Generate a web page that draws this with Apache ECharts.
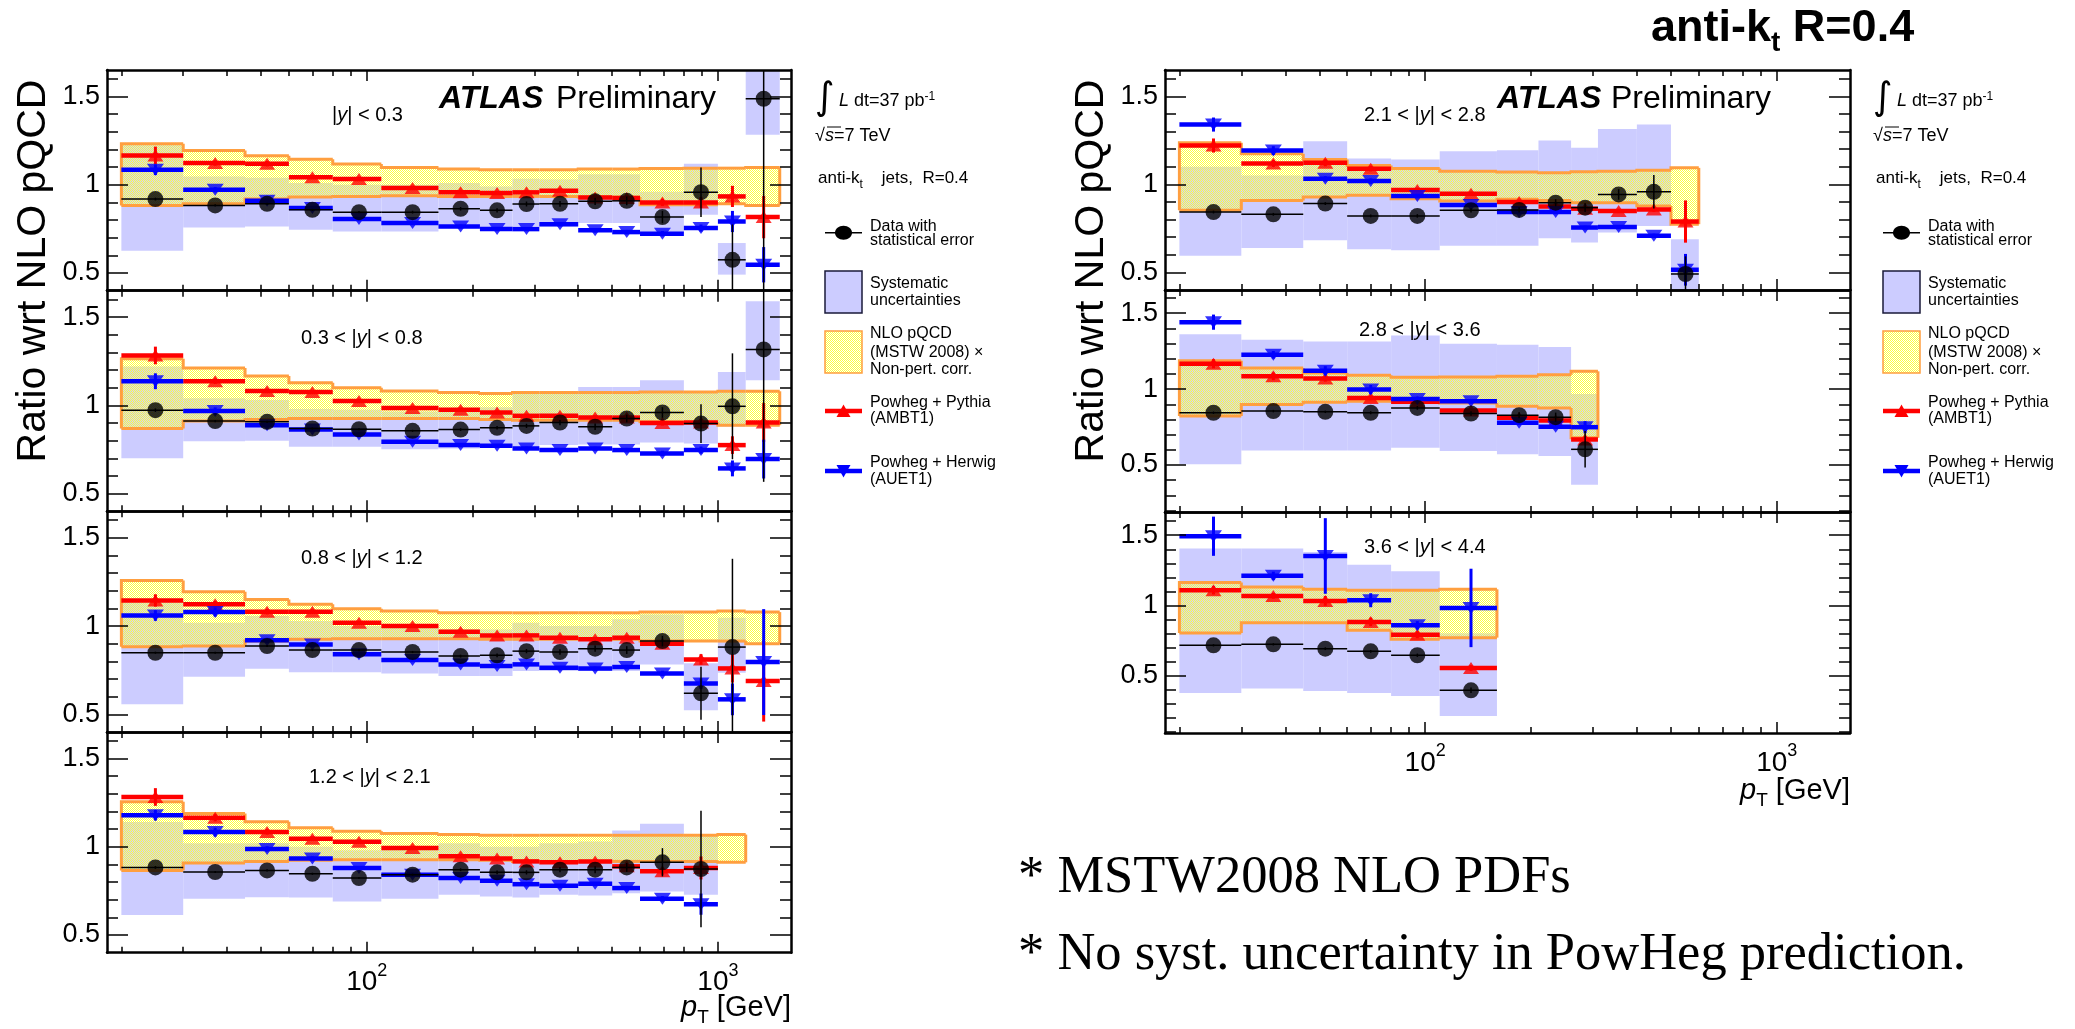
<!DOCTYPE html>
<html>
<head>
<meta charset="utf-8">
<title>Inclusive jet cross-section ratio to NLO pQCD, anti-kt R=0.4</title>
<script src="https://cdn.jsdelivr.net/npm/echarts@6/dist/echarts.min.js"></script>
<style>
  html, body { margin: 0; padding: 0; background: #ffffff; }
  #chart { width: 2075px; height: 1029px; }
</style>
</head>
<body>
<div id="chart"></div>
<script>
// ---------------------------------------------------------------------------
// Binning (jet pT in GeV) and axis ticks
// ---------------------------------------------------------------------------
const ptEdges   = [20, 30, 45, 60, 80, 110, 160, 210, 260, 310, 400, 500, 600, 800, 1000, 1200, 1500];
const ptCenters = [25, 37, 52, 70, 95, 135, 185, 235, 285, 355, 447, 550, 695, 895, 1100, 1350];
const ptMajorTicks = [100, 1000];
const ptMinorTicks = [20, 30, 40, 50, 60, 70, 80, 90, 200, 300, 400, 500, 600, 700, 800, 900];
const ratioMajorTicks = [0.5, 1, 1.5];
const ratioMinorTicks = [0.1, 0.2, 0.3, 0.4, 0.6, 0.7, 0.8, 0.9, 1.1, 1.2, 1.3, 1.4, 1.6];

const rapidityLabels = ['|{i|y}| < 0.3', '0.3 < |{i|y}| < 0.8', '0.8 < |{i|y}| < 1.2', '1.2 < |{i|y}| < 2.1',
                        '2.1 < |{i|y}| < 2.8', '2.8 < |{i|y}| < 3.6', '3.6 < |{i|y}| < 4.4'];

// ---------------------------------------------------------------------------
// |y| < 0.3
// ---------------------------------------------------------------------------
const dataR1      = [0.919, 0.883, 0.892, 0.858, 0.845, 0.845, 0.864, 0.855, 0.891, 0.892, 0.906, 0.909, 0.817, 0.958, 0.575, 1.487];
const statR1      = [0.008, 0.006, 0.006, 0.006, 0.006, 0.008, 0.010, 0.012, 0.014, 0.016, 0.020, 0.025, 0.035, 0.140, 0.200, 1.200];
const systLoR1    = [0.626, 0.758, 0.764, 0.745, 0.736, 0.736, 0.755, 0.745, 0.764, 0.764, 0.783, 0.783, 0.726, 0.830, 0.491, 1.283];
const systHiR1    = [1.230, 1.047, 1.040, 1.010, 1.000, 1.000, 1.010, 0.990, 1.034, 1.030, 1.060, 1.060, 0.960, 1.119, 0.670, 1.750];
const nloLoR1     = [0.883, 0.892, 0.919, 0.930, 0.934, 0.938, 0.934, 0.934, 0.934, 0.934, 0.930, 0.930, 0.887, 0.887, 0.892, 0.883];
const nloHiR1     = [1.232, 1.194, 1.164, 1.145, 1.117, 1.098, 1.089, 1.085, 1.085, 1.085, 1.089, 1.089, 1.092, 1.094, 1.094, 1.098];
const pythiaR1    = [1.166, 1.123, 1.119, 1.043, 1.032, 0.981, 0.958, 0.953, 0.957, 0.966, 0.928, 0.925, 0.900, 0.900, 0.934, 0.817];
const pythiaErrR1 = [0.050, 0.015, 0.015, 0.010, 0.010, 0.010, 0.010, 0.010, 0.010, 0.012, 0.012, 0.015, 0.020, 0.030, 0.060, 0.120];
const herwigR1    = [1.085, 0.972, 0.909, 0.868, 0.806, 0.783, 0.764, 0.749, 0.749, 0.777, 0.742, 0.732, 0.723, 0.755, 0.792, 0.547];
const herwigErrR1 = [0.030, 0.015, 0.012, 0.010, 0.010, 0.010, 0.010, 0.010, 0.010, 0.010, 0.012, 0.012, 0.015, 0.020, 0.060, 0.100];

// ---------------------------------------------------------------------------
// 0.3 < |y| < 0.8
// ---------------------------------------------------------------------------
const dataR2      = [0.973, 0.911, 0.907, 0.869, 0.865, 0.856, 0.863, 0.873, 0.884, 0.903, 0.879, 0.926, 0.960, 0.897, 0.995, 1.317];
const statR2      = [0.010, 0.006, 0.006, 0.006, 0.006, 0.006, 0.008, 0.010, 0.012, 0.015, 0.018, 0.022, 0.030, 0.110, 0.300, 0.750];
const systLoR2    = [0.700, 0.797, 0.800, 0.766, 0.766, 0.752, 0.756, 0.766, 0.766, 0.775, 0.779, 0.779, 0.790, 0.784, 0.880, 1.142];
const systHiR2    = [1.220, 1.040, 1.030, 0.980, 0.975, 0.965, 0.975, 0.990, 1.080, 1.080, 1.105, 1.105, 1.142, 1.076, 1.190, 1.590];
const nloLoR2     = [0.869, 0.911, 0.920, 0.926, 0.926, 0.926, 0.926, 0.920, 0.916, 0.916, 0.916, 0.916, 0.907, 0.903, 0.888, 0.888];
const nloHiR2     = [1.265, 1.212, 1.167, 1.129, 1.100, 1.082, 1.073, 1.067, 1.073, 1.073, 1.073, 1.073, 1.076, 1.076, 1.080, 1.080];
const pythiaR2    = [1.283, 1.137, 1.082, 1.076, 1.025, 0.986, 0.976, 0.960, 0.941, 0.941, 0.931, 0.931, 0.901, 0.903, 0.775, 0.903];
const pythiaErrR2 = [0.050, 0.015, 0.012, 0.010, 0.010, 0.010, 0.010, 0.010, 0.010, 0.010, 0.012, 0.012, 0.015, 0.020, 0.050, 0.110];
const herwigR2    = [1.137, 0.969, 0.888, 0.863, 0.835, 0.794, 0.775, 0.771, 0.756, 0.747, 0.756, 0.747, 0.728, 0.747, 0.643, 0.696];
const herwigErrR2 = [0.045, 0.020, 0.012, 0.010, 0.010, 0.010, 0.010, 0.010, 0.010, 0.010, 0.010, 0.012, 0.015, 0.020, 0.045, 0.110];

// ---------------------------------------------------------------------------
// 0.8 < |y| < 1.2
// ---------------------------------------------------------------------------
const dataR3      = [0.849, 0.849, 0.887, 0.864, 0.864, 0.853, 0.830, 0.834, 0.858, 0.853, 0.872, 0.864, 0.915, 0.619, 0.881, null];
const statR3      = [0.006, 0.006, 0.006, 0.006, 0.006, 0.006, 0.008, 0.010, 0.012, 0.015, 0.018, 0.022, 0.030, 0.150, 0.500, null];
const systLoR3    = [0.557, 0.713, 0.758, 0.739, 0.739, 0.732, 0.717, 0.717, 0.745, 0.745, 0.745, 0.745, 0.783, 0.523, 0.736, null];
const systHiR3    = [1.150, 1.019, 1.057, 1.028, 1.000, 0.990, 0.980, 0.980, 1.019, 1.000, 1.000, 1.038, 1.066, 0.790, 1.047, null];
const nloLoR3     = [0.883, 0.887, 0.915, 0.925, 0.928, 0.928, 0.928, 0.925, 0.925, 0.925, 0.925, 0.925, 0.915, 0.915, 0.915, 0.900];
const nloHiR3     = [1.258, 1.194, 1.151, 1.123, 1.098, 1.085, 1.075, 1.075, 1.075, 1.075, 1.075, 1.075, 1.079, 1.079, 1.085, 1.079];
const pythiaR3    = [1.145, 1.123, 1.081, 1.081, 1.019, 1.000, 0.968, 0.947, 0.947, 0.934, 0.925, 0.934, 0.900, 0.811, 0.760, 0.689];
const pythiaErrR3 = [0.035, 0.020, 0.015, 0.012, 0.010, 0.010, 0.010, 0.010, 0.010, 0.010, 0.012, 0.012, 0.015, 0.030, 0.080, 0.230];
const herwigR3    = [1.060, 1.079, 0.919, 0.896, 0.840, 0.808, 0.783, 0.774, 0.783, 0.764, 0.760, 0.768, 0.732, 0.674, 0.585, 0.796];
const herwigErrR3 = [0.030, 0.025, 0.015, 0.012, 0.010, 0.010, 0.010, 0.010, 0.010, 0.010, 0.010, 0.012, 0.015, 0.030, 0.090, 0.300];

// ---------------------------------------------------------------------------
// 1.2 < |y| < 2.1
// ---------------------------------------------------------------------------
const dataR4      = [0.883, 0.857, 0.866, 0.847, 0.823, 0.842, 0.870, 0.855, 0.855, 0.870, 0.870, 0.883, 0.912, 0.874, null];
const statR4      = [0.008, 0.006, 0.006, 0.006, 0.006, 0.006, 0.008, 0.010, 0.012, 0.015, 0.020, 0.025, 0.080, 0.330, null];
const systLoR4    = [0.614, 0.705, 0.714, 0.712, 0.690, 0.705, 0.728, 0.718, 0.712, 0.728, 0.724, 0.737, 0.747, 0.728, null];
const systHiR4    = [1.140, 1.020, 1.020, 1.000, 0.980, 0.990, 1.020, 1.000, 1.000, 1.020, 1.030, 1.092, 1.130, 1.070, null];
const nloLoR4     = [0.866, 0.908, 0.917, 0.923, 0.927, 0.927, 0.927, 0.923, 0.917, 0.917, 0.917, 0.917, 0.917, 0.917, 0.912];
const nloHiR4     = [1.255, 1.189, 1.141, 1.107, 1.088, 1.075, 1.069, 1.065, 1.065, 1.065, 1.065, 1.065, 1.065, 1.065, 1.069];
const pythiaR4    = [1.282, 1.164, 1.084, 1.046, 1.028, 0.993, 0.946, 0.933, 0.917, 0.912, 0.917, 0.889, 0.861, 0.880, null];
const pythiaErrR4 = [0.050, 0.020, 0.015, 0.012, 0.010, 0.010, 0.010, 0.010, 0.010, 0.010, 0.012, 0.012, 0.020, 0.065, null];
const herwigR4    = [1.179, 1.083, 0.988, 0.933, 0.880, 0.842, 0.823, 0.807, 0.788, 0.779, 0.790, 0.766, 0.705, 0.675, null];
const herwigErrR4 = [0.030, 0.025, 0.015, 0.012, 0.010, 0.010, 0.010, 0.010, 0.010, 0.010, 0.010, 0.012, 0.015, 0.060, null];

// ---------------------------------------------------------------------------
// 2.1 < |y| < 2.8
// ---------------------------------------------------------------------------
const dataR5      = [0.843, 0.830, 0.891, 0.821, 0.821, 0.853, 0.855, 0.896, 0.868, 0.943, 0.958, 0.491];
const statR5      = [0.008, 0.008, 0.008, 0.008, 0.010, 0.012, 0.015, 0.020, 0.025, 0.030, 0.095, 0.100];
const systLoR5    = [0.594, 0.638, 0.683, 0.632, 0.626, 0.651, 0.651, 0.694, 0.670, 0.726, 0.764, 0.300];
const systHiR5    = [1.100, 1.050, 1.245, 1.147, 1.142, 1.189, 1.194, 1.249, 1.208, 1.315, 1.340, 0.689];
const nloLoR5     = [0.853, 0.909, 0.928, 0.938, 0.919, 0.906, 0.915, 0.909, 0.896, 0.896, 0.877, 0.774];
const nloHiR5     = [1.236, 1.174, 1.142, 1.108, 1.091, 1.075, 1.070, 1.066, 1.072, 1.075, 1.081, 1.094];
const pythiaR5    = [1.221, 1.119, 1.123, 1.089, 0.968, 0.947, 0.900, 0.874, 0.862, 0.849, 0.858, 0.789];
const pythiaErrR5 = [0.040, 0.020, 0.020, 0.015, 0.012, 0.010, 0.010, 0.010, 0.012, 0.012, 0.015, 0.120];
const herwigR5    = [1.340, 1.192, 1.032, 1.019, 0.934, 0.883, 0.843, 0.843, 0.755, 0.758, 0.708, 0.515];
const herwigErrR5 = [0.040, 0.025, 0.015, 0.015, 0.012, 0.010, 0.010, 0.010, 0.010, 0.010, 0.012, 0.090];

// ---------------------------------------------------------------------------
// 2.8 < |y| < 3.6
// ---------------------------------------------------------------------------
const dataR6      = [0.844, 0.855, 0.850, 0.844, 0.876, 0.839, 0.828, 0.815, 0.603];
const statR6      = [0.008, 0.008, 0.008, 0.010, 0.012, 0.015, 0.020, 0.030, 0.120];
const systLoR6    = [0.504, 0.596, 0.596, 0.596, 0.614, 0.592, 0.570, 0.559, 0.369];
const systHiR6    = [1.362, 1.325, 1.314, 1.314, 1.353, 1.299, 1.292, 1.277, 0.968];
const nloLoR6     = [0.822, 0.898, 0.914, 0.920, 0.920, 0.909, 0.887, 0.876, 0.679];
const nloHiR6     = [1.187, 1.139, 1.106, 1.091, 1.078, 1.080, 1.084, 1.095, 1.117];
const pythiaR6    = [1.167, 1.084, 1.069, 0.942, 0.916, 0.859, 0.811, 0.793, 0.668];
const pythiaErrR6 = [0.030, 0.025, 0.020, 0.015, 0.012, 0.010, 0.010, 0.012, 0.020];
const herwigR6    = [1.441, 1.226, 1.121, 0.997, 0.935, 0.920, 0.778, 0.752, 0.749];
const herwigErrR6 = [0.050, 0.025, 0.030, 0.030, 0.015, 0.015, 0.012, 0.012, 0.040];

// ---------------------------------------------------------------------------
// 3.6 < |y| < 4.4
// ---------------------------------------------------------------------------
const dataR7      = [0.714, 0.721, 0.690, 0.671, 0.643, 0.393];
const statR7      = [0.008, 0.008, 0.010, 0.010, 0.012, 0.020];
const systLoR7    = [0.374, 0.405, 0.388, 0.374, 0.352, 0.210];
const systHiR7    = [1.405, 1.405, 1.380, 1.290, 1.243, 0.800];
const nloLoR7     = [0.802, 0.876, 0.876, 0.821, 0.757, 0.769];
const nloHiR7     = [1.162, 1.131, 1.114, 1.107, 1.107, 1.114];
const pythiaR7    = [1.107, 1.067, 1.031, 0.881, 0.790, 0.552];
const pythiaErrR7 = [0.030, 0.020, 0.035, 0.030, 0.025, 0.020];
const herwigR7    = [1.493, 1.210, 1.352, 1.036, 0.857, 0.981];
const herwigErrR7 = [0.140, 0.030, 0.270, 0.050, 0.030, 0.280];

// ---------------------------------------------------------------------------
// Styling
// ---------------------------------------------------------------------------
const FONT = "'Liberation Sans', Arial, Helvetica, sans-serif";
const SERIF = "'Liberation Serif', 'Times New Roman', serif";
const SYST_FILL = '#ccccff';
const BAND_EDGE = '#ff9f40';
const PYTHIA_COLOR = '#ff0000';
const HERWIG_COLOR = '#0000ff';
const PT_MIN = 18.2, PT_MAX = 1615;

// pale yellow checker fill used for the NLO band
function makeBandPattern() {
  const c = document.createElement('canvas');
  c.width = 4; c.height = 4;
  const g = c.getContext('2d');
  g.fillStyle = '#ffff3c';
  for (let y = 0; y < 4; y++) for (let x = 0; x < 4; x++) if ((x + y) % 2 === 0) g.fillRect(x, y, 1, 1);
  return { image: c, repeat: 'repeat' };
}
const BAND_PATTERN = makeBandPattern();

// panel frames (pixels) and vertical ranges
const panelBoxes = [
  { left: 107,  top: 70,    width: 684, height: 220.7, yMin: 0.4,   yMax: 1.65,  ptLabels: false },
  { left: 107,  top: 290.7, width: 684, height: 220.6, yMin: 0.4,   yMax: 1.65,  ptLabels: false },
  { left: 107,  top: 511.3, width: 684, height: 220.7, yMin: 0.4,   yMax: 1.65,  ptLabels: false },
  { left: 107,  top: 732,   width: 684, height: 220.7, yMin: 0.4,   yMax: 1.65,  ptLabels: true  },
  { left: 1165, top: 70,    width: 685, height: 220,   yMin: 0.4,   yMax: 1.65,  ptLabels: false },
  { left: 1165, top: 290,   width: 685, height: 222,   yMin: 0.19,  yMax: 1.653, ptLabels: false },
  { left: 1165, top: 512,   width: 685, height: 221,   yMin: 0.088, yMax: 1.666, ptLabels: true  }
];
const panelLabelPos = [[332, 115], [301, 338], [301, 558], [309, 777], [1364, 115], [1359, 330], [1364, 547]];

const panels = [
  { data: dataR1, stat: statR1, systLo: systLoR1, systHi: systHiR1, nloLo: nloLoR1, nloHi: nloHiR1, pythia: pythiaR1, pythiaErr: pythiaErrR1, herwig: herwigR1, herwigErr: herwigErrR1 },
  { data: dataR2, stat: statR2, systLo: systLoR2, systHi: systHiR2, nloLo: nloLoR2, nloHi: nloHiR2, pythia: pythiaR2, pythiaErr: pythiaErrR2, herwig: herwigR2, herwigErr: herwigErrR2 },
  { data: dataR3, stat: statR3, systLo: systLoR3, systHi: systHiR3, nloLo: nloLoR3, nloHi: nloHiR3, pythia: pythiaR3, pythiaErr: pythiaErrR3, herwig: herwigR3, herwigErr: herwigErrR3 },
  { data: dataR4, stat: statR4, systLo: systLoR4, systHi: systHiR4, nloLo: nloLoR4, nloHi: nloHiR4, pythia: pythiaR4, pythiaErr: pythiaErrR4, herwig: herwigR4, herwigErr: herwigErrR4 },
  { data: dataR5, stat: statR5, systLo: systLoR5, systHi: systHiR5, nloLo: nloLoR5, nloHi: nloHiR5, pythia: pythiaR5, pythiaErr: pythiaErrR5, herwig: herwigR5, herwigErr: herwigErrR5 },
  { data: dataR6, stat: statR6, systLo: systLoR6, systHi: systHiR6, nloLo: nloLoR6, nloHi: nloHiR6, pythia: pythiaR6, pythiaErr: pythiaErrR6, herwig: herwigR6, herwigErr: herwigErrR6 },
  { data: dataR7, stat: statR7, systLo: systLoR7, systHi: systHiR7, nloLo: nloLoR7, nloHi: nloHiR7, pythia: pythiaR7, pythiaErr: pythiaErrR7, herwig: herwigR7, herwigErr: herwigErrR7 }
];

// ---------------------------------------------------------------------------
// Custom renderers
// ---------------------------------------------------------------------------
function clampY(y, cs) { return Math.min(cs.y + cs.height, Math.max(cs.y, y)); }

// systematic uncertainty box spanning one pT bin: [lo, hi, yLow, yHigh]
function renderSyst(params, api) {
  const cs = params.coordSys;
  const a = api.coord([api.value(0), api.value(2)]);
  const b = api.coord([api.value(1), api.value(3)]);
  const yTop = clampY(b[1], cs), yBot = clampY(a[1], cs);
  if (yBot - yTop <= 0) return null;
  return { type: 'rect', shape: { x: a[0], y: yTop, width: b[0] - a[0], height: yBot - yTop }, style: { fill: SYST_FILL } };
}

// NLO band fill for one bin: [lo, hi, yLow, yHigh]
function renderBandFill(params, api) {
  const cs = params.coordSys;
  const a = api.coord([api.value(0), api.value(2)]);
  const b = api.coord([api.value(1), api.value(3)]);
  const yTop = clampY(b[1], cs), yBot = clampY(a[1], cs);
  return { type: 'rect', shape: { x: a[0], y: yTop, width: b[0] - a[0], height: yBot - yTop }, style: { fill: BAND_PATTERN } };
}

// NLO band outline as a step contour; neighbours come from the band arrays
function makeBandEdgeRenderer(lows, highs) {
  return function (params, api) {
    const i = params.dataIndex;
    const n = lows.length;
    const x0 = api.value(0), x1 = api.value(1);
    const xl = api.coord([x0, 1])[0], xr = api.coord([x1, 1])[0];
    const yLo = api.coord([x0, lows[i]])[1];
    const yHi = api.coord([x0, highs[i]])[1];
    const prevHi = i > 0 ? api.coord([x0, highs[i - 1]])[1] : yLo;
    const prevLo = i > 0 ? api.coord([x0, lows[i - 1]])[1] : yLo;
    const edge = { stroke: BAND_EDGE, lineWidth: 3, fill: null, lineJoin: 'miter' };
    const kids = [
      { type: 'polyline', shape: { points: [[xl, prevHi], [xl, yHi], [xr, yHi]] }, style: edge },
      { type: 'polyline', shape: { points: [[xl, prevLo], [xl, yLo], [xr, yLo]] }, style: edge }
    ];
    if (i === n - 1) kids.push({ type: 'line', shape: { x1: xr, y1: yHi, x2: xr, y2: yLo }, style: edge });
    return { type: 'group', children: kids };
  };
}

// horizontal bin-wide bar plus vertical error bar: [lo, hi, centre, value, err]
function makeBarRenderer(color, barWidth, errWidth) {
  return function (params, api) {
    const cs = params.coordSys;
    const xl = api.coord([api.value(0), 1])[0];
    const xr = api.coord([api.value(1), 1])[0];
    const xc = api.coord([api.value(2), 1])[0];
    const v = api.value(3), e = api.value(4);
    const yv = api.coord([api.value(2), v])[1];
    const yUp = clampY(api.coord([api.value(2), v + e])[1], cs);
    const yDn = clampY(api.coord([api.value(2), v - e])[1], cs);
    const kids = [];
    if (yv >= cs.y && yv <= cs.y + cs.height) {
      kids.push({ type: 'line', shape: { x1: xl, y1: yv, x2: xr, y2: yv }, style: { stroke: color, lineWidth: barWidth } });
    }
    if (yDn - yUp > 0) {
      kids.push({ type: 'line', shape: { x1: xc, y1: yUp, x2: xc, y2: yDn }, style: { stroke: color, lineWidth: errWidth } });
    }
    return { type: 'group', children: kids };
  };
}
const renderPythia = makeBarRenderer(PYTHIA_COLOR, 4.5, 3);
const renderHerwig = makeBarRenderer(HERWIG_COLOR, 4.5, 3);
const renderData = makeBarRenderer('#000000', 1.5, 1.5);

// ---------------------------------------------------------------------------
// Axes
// ---------------------------------------------------------------------------
const tickLine = { color: '#000', width: 1.5 };
const frameLine = { show: true, lineStyle: { color: '#000', width: 2.5 } };

function xAxesFor(i, box) {
  const common = { type: 'log', logBase: 10, gridIndex: i, min: PT_MIN, max: PT_MAX, z: 20,
                   splitLine: { show: false }, axisPointer: { show: false } };
  const labels = box.ptLabels ? {
    show: true, customValues: ptMajorTicks, margin: 9,
    formatter: v => '{m|10}{e|' + Math.round(Math.log10(v)) + '}',
    rich: {
      m: { fontSize: 28, fontFamily: FONT, color: '#000', lineHeight: 42 },
      e: { fontSize: 18, fontFamily: FONT, color: '#000', lineHeight: 12, verticalAlign: 'top' }
    }
  } : { show: false };
  return [
    Object.assign({}, common, { position: 'bottom', axisLine: frameLine,
      axisTick: { show: true, inside: true, length: 11, customValues: ptMajorTicks, lineStyle: tickLine }, axisLabel: labels }),
    Object.assign({}, common, { position: 'bottom', axisLine: { show: false },
      axisTick: { show: true, inside: true, length: 6, customValues: ptMinorTicks, lineStyle: tickLine }, axisLabel: { show: false } }),
    Object.assign({}, common, { position: 'top', axisLine: frameLine,
      axisTick: { show: true, inside: true, length: 11, customValues: ptMajorTicks, lineStyle: tickLine }, axisLabel: { show: false } }),
    Object.assign({}, common, { position: 'top', axisLine: { show: false },
      axisTick: { show: true, inside: true, length: 6, customValues: ptMinorTicks, lineStyle: tickLine }, axisLabel: { show: false } })
  ];
}

function yAxesFor(i, box) {
  const inRange = v => v > box.yMin + 1e-6 && v < box.yMax - 1e-6;
  const major = ratioMajorTicks.filter(inRange);
  const minor = ratioMinorTicks.filter(inRange);
  const common = { type: 'value', gridIndex: i, min: box.yMin, max: box.yMax, z: 20,
                   splitLine: { show: false }, axisPointer: { show: false } };
  return [
    Object.assign({}, common, { position: 'left', axisLine: frameLine,
      axisTick: { show: true, inside: true, length: 21, customValues: major, lineStyle: tickLine },
      axisLabel: { show: true, customValues: major, margin: 7, fontSize: 27, fontFamily: FONT, color: '#000' } }),
    Object.assign({}, common, { position: 'left', axisLine: { show: false },
      axisTick: { show: true, inside: true, length: 11, customValues: minor, lineStyle: tickLine }, axisLabel: { show: false } }),
    Object.assign({}, common, { position: 'right', axisLine: frameLine,
      axisTick: { show: true, inside: true, length: 21, customValues: major, lineStyle: tickLine }, axisLabel: { show: false } }),
    Object.assign({}, common, { position: 'right', axisLine: { show: false },
      axisTick: { show: true, inside: true, length: 11, customValues: minor, lineStyle: tickLine }, axisLabel: { show: false } })
  ];
}

// ---------------------------------------------------------------------------
// Build grids, axes and series
// ---------------------------------------------------------------------------
const grids = [], xAxes = [], yAxes = [], series = [];

panels.forEach((p, i) => {
  const box = panelBoxes[i];
  grids.push({ left: box.left, top: box.top, width: box.width, height: box.height, show: false, outerBoundsMode: 'none' });
  xAxes.push(...xAxesFor(i, box));
  yAxes.push(...yAxesFor(i, box));

  const n = p.nloLo.length;
  const syst = [], band = [], py = [], pyPts = [], hw = [], hwPts = [], dat = [], datPts = [];
  for (let k = 0; k < n; k++) {
    const lo = ptEdges[k], hi = ptEdges[k + 1], c = ptCenters[k];
    band.push([lo, hi, p.nloLo[k], p.nloHi[k]]);
    if (p.systLo[k] != null) syst.push([lo, hi, p.systLo[k], p.systHi[k]]);
    if (p.pythia[k] != null) { py.push([lo, hi, c, p.pythia[k], p.pythiaErr[k]]); pyPts.push([c, p.pythia[k]]); }
    if (p.herwig[k] != null) { hw.push([lo, hi, c, p.herwig[k], p.herwigErr[k]]); hwPts.push([c, p.herwig[k]]); }
    if (p.data[k] != null) { dat.push([lo, hi, c, p.data[k], p.stat[k]]); datPts.push([c, p.data[k]]); }
  }
  const ax = { xAxisIndex: 4 * i, yAxisIndex: 4 * i, silent: true };
  series.push(Object.assign({ type: 'custom', name: 'Systematic uncertainties', z: 1, renderItem: renderSyst, data: syst }, ax));
  series.push(Object.assign({ type: 'custom', name: 'NLO pQCD', z: 2, renderItem: renderBandFill, data: band }, ax));
  series.push(Object.assign({ type: 'custom', name: 'NLO pQCD outline', z: 3, renderItem: makeBandEdgeRenderer(p.nloLo, p.nloHi), data: band }, ax));
  series.push(Object.assign({ type: 'custom', name: 'Powheg + Pythia', z: 4, renderItem: renderPythia, data: py }, ax));
  series.push(Object.assign({ type: 'scatter', name: 'Powheg + Pythia', z: 5, symbol: 'triangle', symbolSize: [16, 12],
    itemStyle: { color: PYTHIA_COLOR }, data: pyPts }, ax));
  series.push(Object.assign({ type: 'custom', name: 'Powheg + Herwig', z: 6, renderItem: renderHerwig, data: hw }, ax));
  series.push(Object.assign({ type: 'scatter', name: 'Powheg + Herwig', z: 7, symbol: 'triangle', symbolRotate: 180, symbolSize: [17, 12],
    itemStyle: { color: HERWIG_COLOR }, data: hwPts }, ax));
  series.push(Object.assign({ type: 'custom', name: 'Data', z: 8, renderItem: renderData, data: dat }, ax));
  series.push(Object.assign({ type: 'scatter', name: 'Data', z: 9, symbol: 'circle', symbolSize: 16,
    itemStyle: { color: '#000' }, data: datPts }, ax));
});

// ---------------------------------------------------------------------------
// Text and legend graphics
// ---------------------------------------------------------------------------
function tok(size, extra) {
  return Object.assign({ fontSize: size, fontFamily: FONT, fill: '#000' }, extra || {});
}
function text(x, y, str, font, opts) {
  opts = opts || {};
  const align = opts.align || 'left', valign = opts.valign || 'middle';
  return {
    type: 'text', x: x, y: y, rotation: opts.rotation || 0, z: 50, silent: true,
    style: Object.assign({ text: str, fill: '#000', font: font, align: align, verticalAlign: valign,
                           textAlign: align, textVerticalAlign: valign }, opts.rich ? { rich: opts.rich } : {})
  };
}

const gfx = [];

// axis titles
gfx.push(text(34, 271, 'Ratio wrt NLO pQCD', '41px ' + FONT, { align: 'center', rotation: Math.PI / 2 }));
gfx.push(text(1092, 271, 'Ratio wrt NLO pQCD', '41px ' + FONT, { align: 'center', rotation: Math.PI / 2 }));
const ptTitleRich = { p: tok(29, { fontStyle: 'italic', lineHeight: 38 }), t: tok(19, { lineHeight: 14, verticalAlign: 'bottom' }), n: tok(29, { lineHeight: 38 }) };
gfx.push(text(791, 1008, '{p|p}{t|T}{n| [GeV]}', '29px ' + FONT, { align: 'right', rich: ptTitleRich }));
gfx.push(text(1850, 791, '{p|p}{t|T}{n| [GeV]}', '29px ' + FONT, { align: 'right', rich: ptTitleRich }));

// headline
gfx.push(text(1651, 29, '{b|anti-k}{t|t}{b| R=0.4}', 'bold 45px ' + FONT, {
  rich: { b: tok(45, { fontWeight: 'bold', lineHeight: 56 }), t: tok(28, { fontWeight: 'bold', lineHeight: 20, verticalAlign: 'bottom' }) }
}));

// experiment tag
[[439, 556], [1497, 1611]].forEach(([xa, xp]) => {
  gfx.push(text(xa, 99, 'ATLAS', 'italic bold 32px ' + FONT));
  gfx.push(text(xp, 99, 'Preliminary', '32px ' + FONT));
});

// rapidity labels
rapidityLabels.forEach((lab, i) => {
  gfx.push(text(panelLabelPos[i][0], panelLabelPos[i][1], lab, '20px ' + FONT, { rich: { i: tok(20, { fontStyle: 'italic' }) } }));
});

// legend column (right of each plot block)
function legendBlock(dx) {
  const out = [];
  out.push(text(815 + dx, 99, '\u222B', "38px 'DejaVu Sans', sans-serif"));
  out.push(text(839 + dx, 101, '{i|L}{n| dt=37 pb}{s|-1}', '18px ' + FONT, {
    rich: { i: tok(18, { fontStyle: 'italic', lineHeight: 20 }), n: tok(18, { lineHeight: 20 }), s: tok(12, { lineHeight: 10, verticalAlign: 'top' }) }
  }));
  out.push(text(815 + dx, 136, '{n|\u221A}{i|s}{n|=7 TeV}', '18px ' + FONT, {
    rich: { i: tok(18, { fontStyle: 'italic' }), n: tok(18) }
  }));
  out.push({ type: 'line', z: 50, silent: true, shape: { x1: 827 + dx, y1: 127, x2: 841 + dx, y2: 127 }, style: { stroke: '#000', lineWidth: 1 } });
  out.push(text(818 + dx, 178, '{n|anti-k}{t|t}{n|    jets,  R=0.4}', '17px ' + FONT, {
    rich: { n: tok(17, { lineHeight: 26 }), t: tok(12, { lineHeight: 10, verticalAlign: 'bottom' }) }
  }));

  const x0 = 825 + dx, x1 = 862 + dx, xm = 843.5 + dx, tx = 870 + dx;
  // data
  out.push({ type: 'line', z: 50, silent: true, shape: { x1: x0, y1: 232.7, x2: x1, y2: 232.7 }, style: { stroke: '#000', lineWidth: 1.5 } });
  out.push({ type: 'ellipse', z: 51, silent: true, shape: { cx: xm, cy: 232.7, rx: 8.5, ry: 7 }, style: { fill: '#000' } });
  // systematics
  out.push({ type: 'rect', z: 50, silent: true, shape: { x: x0, y: 271, width: 37, height: 42 }, style: { fill: SYST_FILL, stroke: '#1a1a3a', lineWidth: 1.5 } });
  // NLO band
  out.push({ type: 'rect', z: 50, silent: true, shape: { x: x0, y: 331, width: 37, height: 42 }, style: { fill: BAND_PATTERN, stroke: BAND_EDGE, lineWidth: 1.5 } });
  // Pythia
  out.push({ type: 'line', z: 50, silent: true, shape: { x1: x0, y1: 411, x2: x1, y2: 411 }, style: { stroke: PYTHIA_COLOR, lineWidth: 4.5 } });
  out.push({ type: 'polygon', z: 51, silent: true, shape: { points: [[xm, 404.5], [xm + 7, 417], [xm - 7, 417]] }, style: { fill: PYTHIA_COLOR } });
  // Herwig
  out.push({ type: 'line', z: 50, silent: true, shape: { x1: x0, y1: 471, x2: x1, y2: 471 }, style: { stroke: HERWIG_COLOR, lineWidth: 4.5 } });
  out.push({ type: 'polygon', z: 51, silent: true, shape: { points: [[xm - 7, 465], [xm + 7, 465], [xm, 477.5]] }, style: { fill: HERWIG_COLOR } });

  const lines = [
    [226.7, 'Data with'], [241, 'statistical error'],
    [284, 'Systematic'], [300.7, 'uncertainties'],
    [333.3, 'NLO pQCD'], [352.3, '(MSTW 2008) \u00D7'], [369.3, 'Non-pert. corr.'],
    [402.3, 'Powheg + Pythia'], [419, '(AMBT1)'],
    [462.7, 'Powheg + Herwig'], [480, '(AUET1)']
  ];
  lines.forEach(([y, s]) => out.push(text(tx, y, s, '16px ' + FONT)));
  return out;
}
gfx.push(...legendBlock(0), ...legendBlock(1058));

// notes
gfx.push(text(1018, 878, '* MSTW2008 NLO PDFs', '52.5px ' + SERIF));
gfx.push(text(1018, 955, '* No syst. uncertainty in PowHeg prediction.', '52.5px ' + SERIF));

// ---------------------------------------------------------------------------
const chart = echarts.init(document.getElementById('chart'), null, { renderer: 'canvas' });
chart.setOption({
  backgroundColor: '#ffffff',
  animation: false,
  grid: grids,
  xAxis: xAxes,
  yAxis: yAxes,
  series: series,
  graphic: { elements: gfx }
});
</script>
</body>
</html>
